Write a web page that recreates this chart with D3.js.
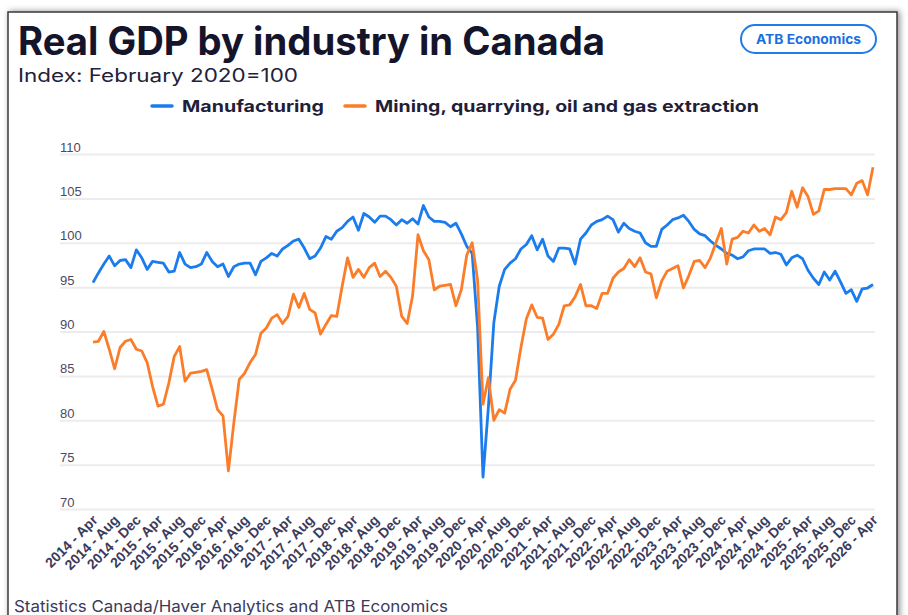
<!DOCTYPE html>
<html>
<head>
<meta charset="utf-8">
<script src="https://cdn.jsdelivr.net/npm/d3@7"></script>
<style>
body { margin: 0; background: #fff; }
svg { display: block; font-family: Inter, "Noto Sans", sans-serif; }
</style>
</head>
<body>
<div id="chart"></div>
<script>
// monthly index values, Apr 2014 .. Apr 2026 (Feb 2020 = 100)
var startMonth = new Date(2014, 3, 1)

var manufacturing = [
    95.5, 96.6, 97.6, 98.5, 97.4, 98.0, 98.1, 97.2, 99.2, 98.3, 97.0, 97.9,
    97.8, 97.7, 96.7, 96.8, 98.9, 97.6, 97.2, 97.3, 97.6, 98.9, 97.9, 97.3,
    97.6, 96.2, 97.3, 97.6, 97.7, 97.7, 96.4, 97.9, 98.3, 98.8, 98.5, 99.3,
    99.7, 100.2, 100.4, 99.4, 98.2, 98.5, 99.4, 100.7, 100.4, 101.3, 101.7, 102.4,
    102.9, 101.4, 103.3, 102.9, 102.3, 103.0, 103.0, 102.6, 102.0, 102.6, 102.2, 102.7,
    102.1, 104.2, 102.9, 102.4, 102.4, 102.3, 101.8, 102.2, 101.0, 99.6, 98.8, 90.5,
    73.6, 81.5, 91.0, 95.1, 97.0, 97.7, 98.2, 99.3, 99.8, 100.8, 99.2, 100.4,
    98.5, 97.9, 99.4, 99.4, 99.3, 97.6, 100.4, 101.1, 102.0, 102.4, 102.6, 103.0,
    102.6, 101.2, 102.2, 101.6, 101.3, 101.1, 100.0, 99.6, 99.6, 101.5, 102.0, 102.6,
    102.8, 103.1, 102.4, 101.5, 101.0, 100.8, 100.2, 99.7, 99.3, 98.8, 98.6, 98.2,
    98.4, 99.1, 99.3, 99.3, 99.3, 98.8, 98.9, 98.7, 97.5, 98.3, 98.6, 98.2,
    96.9, 96.0, 95.3, 96.7, 95.8, 96.8, 95.6, 94.3, 94.7, 93.4, 94.8, 94.9,
    95.3
]

var mining = [
    88.8, 88.9, 90.0, 88.0, 85.8, 88.2, 88.9, 89.1, 88.0, 87.8, 86.5, 83.8,
    81.6, 81.8, 84.2, 87.2, 88.3, 84.4, 85.3, 85.4, 85.5, 85.7, 83.5, 81.2,
    80.5, 74.3, 79.7, 84.6, 85.3, 86.5, 87.4, 89.8, 90.4, 91.5, 91.9, 90.9,
    91.7, 94.2, 92.7, 94.3, 92.5, 92.1, 89.7, 90.8, 91.8, 91.7, 95.1, 98.3,
    96.1, 97.0, 96.1, 97.2, 97.7, 96.2, 96.8, 96.1, 95.1, 91.7, 90.9, 94.0,
    100.9, 99.1, 98.1, 94.7, 95.1, 95.2, 95.3, 92.9, 94.7, 98.6, 100.0, 95.8,
    81.8, 84.8, 80.0, 81.2, 80.8, 83.5, 84.5, 88.2, 91.4, 93.0, 91.6, 91.5,
    89.1, 89.7, 90.8, 92.9, 93.0, 93.9, 95.3, 92.9, 92.9, 92.6, 94.3, 94.3,
    96.0, 96.7, 97.1, 98.1, 97.3, 98.3, 96.7, 96.5, 93.8, 95.7, 96.8, 97.1,
    97.4, 94.9, 96.3, 97.9, 98.0, 97.2, 98.3, 100.0, 101.6, 97.6, 100.4, 100.6,
    101.3, 101.1, 102.0, 101.3, 101.6, 100.9, 102.9, 102.6, 103.4, 105.8, 104.0, 106.2,
    105.2, 103.2, 103.6, 106.0, 106.0, 106.1, 106.1, 106.1, 105.4, 106.7, 107.0, 105.4,
    108.5
]

var seriesNames = ['Manufacturing', 'Mining, quarrying, oil and gas extraction']
var seriesColors = ['#1b7ced', '#fb7d2a']
var yTicks = [70, 75, 80, 85, 90, 95, 100, 105, 110]

var months = d3.timeMonth.range(startMonth, d3.timeMonth.offset(startMonth, manufacturing.length))
var categories = months.map(d3.timeFormat('%Y - %b'))
var tickLabels = categories.filter(function(d, i) { return i % 4 == 0 })

var W = 908, H = 615
var plot = { left: 60, right: 875, top: 154, bottom: 509, x0: 93, x1: 873 }

var svg = d3.select('#chart').append('svg')
    .attr('width', W)
    .attr('height', H)

var defs = svg.append('defs')
defs.append('filter')
    .attr('id', 'shadow')
    .attr('x', -0.05).attr('y', -0.05).attr('width', 1.1).attr('height', 1.1)
    .append('feDropShadow')
    .attr('dx', 2).attr('dy', 0)
    .attr('stdDeviation', 3)
    .attr('flood-color', '#000')
    .attr('flood-opacity', 0.45)

// card frame
svg.append('rect')
    .attr('x', 8).attr('y', 12)
    .attr('width', 889).attr('height', 640)
    .attr('fill', '#fff')
    .attr('stroke', '#3a3a3a')
    .attr('stroke-width', 1.5)
    .attr('filter', 'url(#shadow)')

// header
svg.append('text')
    .attr('x', 18).attr('y', 55)
    .attr('font-size', 39).attr('font-weight', 700)
    .attr('fill', '#14142b')
    .attr('textLength', 587).attr('lengthAdjust', 'spacingAndGlyphs')
    .text('Real GDP by industry in Canada')

svg.append('text')
    .attr('x', 18).attr('y', 82)
    .attr('font-size', 18)
    .attr('fill', '#22223a')
    .attr('textLength', 280).attr('lengthAdjust', 'spacingAndGlyphs')
    .text('Index: February 2020=100')

var badge = svg.append('g').attr('transform', 'translate(741,25)')
badge.append('rect')
    .attr('width', 135).attr('height', 28).attr('rx', 14)
    .attr('fill', '#fff')
    .attr('stroke', '#1f7be8').attr('stroke-width', 2)
badge.append('text')
    .attr('x', 67.5).attr('y', 19)
    .attr('text-anchor', 'middle')
    .attr('font-size', 13).attr('font-weight', 700)
    .attr('fill', '#1a6fe0')
    .attr('textLength', 105).attr('lengthAdjust', 'spacingAndGlyphs')
    .text('ATB Economics')

// legend
var legendPos = [{ x: 152, w: 142 }, { x: 345, w: 384 }]
var legend = svg.append('g').attr('class', 'legend')
seriesNames.forEach(function(name, i) {
    var p = legendPos[i]
    legend.append('line')
        .attr('x1', p.x).attr('x2', p.x + 20)
        .attr('y1', 106).attr('y2', 106)
        .attr('stroke', seriesColors[i])
        .attr('stroke-width', 3.5)
        .attr('stroke-linecap', 'round')
    legend.append('text')
        .attr('x', p.x + 30).attr('y', 112)
        .attr('font-size', 16).attr('font-weight', 700)
        .attr('fill', '#1f1f3a')
        .attr('textLength', p.w).attr('lengthAdjust', 'spacingAndGlyphs')
        .text(name)
})

var x = d3.scalePoint()
    .domain(categories)
    .range([plot.x0, plot.x1])

var y = d3.scaleLinear()
    .domain([70, 110])
    .range([plot.bottom, plot.top])

// y grid + labels
var yAxis = svg.append('g')
    .attr('class', 'axis axis--y')
    .attr('transform', 'translate(' + plot.left + ',0)')
    .call(d3.axisRight(y).tickValues(yTicks).tickSize(plot.right - plot.left))
yAxis.select('.domain').remove()
yAxis.selectAll('line')
    .attr('stroke', '#ececec')
    .attr('stroke-width', 2)
yAxis.selectAll('text')
    .attr('x', 0)
    .attr('dy', -3)
    .attr('text-anchor', 'start')
    .attr('font-size', 13)
    .attr('fill', '#4a4a63')

// x axis labels
var xAxis = svg.append('g')
    .attr('class', 'axis axis--x')
    .attr('transform', 'translate(0,' + plot.bottom + ')')
    .call(d3.axisBottom(x).tickValues(tickLabels).tickSize(0))
xAxis.select('.domain').remove()
xAxis.selectAll('text')
    .attr('x', 0).attr('y', 0).attr('dy', 0)
    .attr('transform', 'translate(5,12) rotate(-45)')
    .attr('text-anchor', 'end')
    .attr('font-size', 14)
    .attr('font-weight', 600)
    .attr('fill', '#3b3b5c')

var line = d3.line()
    .x(function(d, i) { return x(categories[i]) })
    .y(function(d) { return y(d) })

;[manufacturing, mining].forEach(function(data, i) {
    svg.append('path')
        .datum(data)
        .attr('class', 'line')
        .attr('fill', 'none')
        .attr('stroke', seriesColors[i])
        .attr('stroke-width', 2.8)
        .attr('stroke-linejoin', 'round')
        .attr('d', line)
})

// source
svg.append('text')
    .attr('x', 14).attr('y', 612)
    .attr('font-size', 16)
    .attr('fill', '#3a3a5a')
    .attr('textLength', 434).attr('lengthAdjust', 'spacingAndGlyphs')
    .text('Statistics Canada/Haver Analytics and ATB Economics')
</script>
</body>
</html>
